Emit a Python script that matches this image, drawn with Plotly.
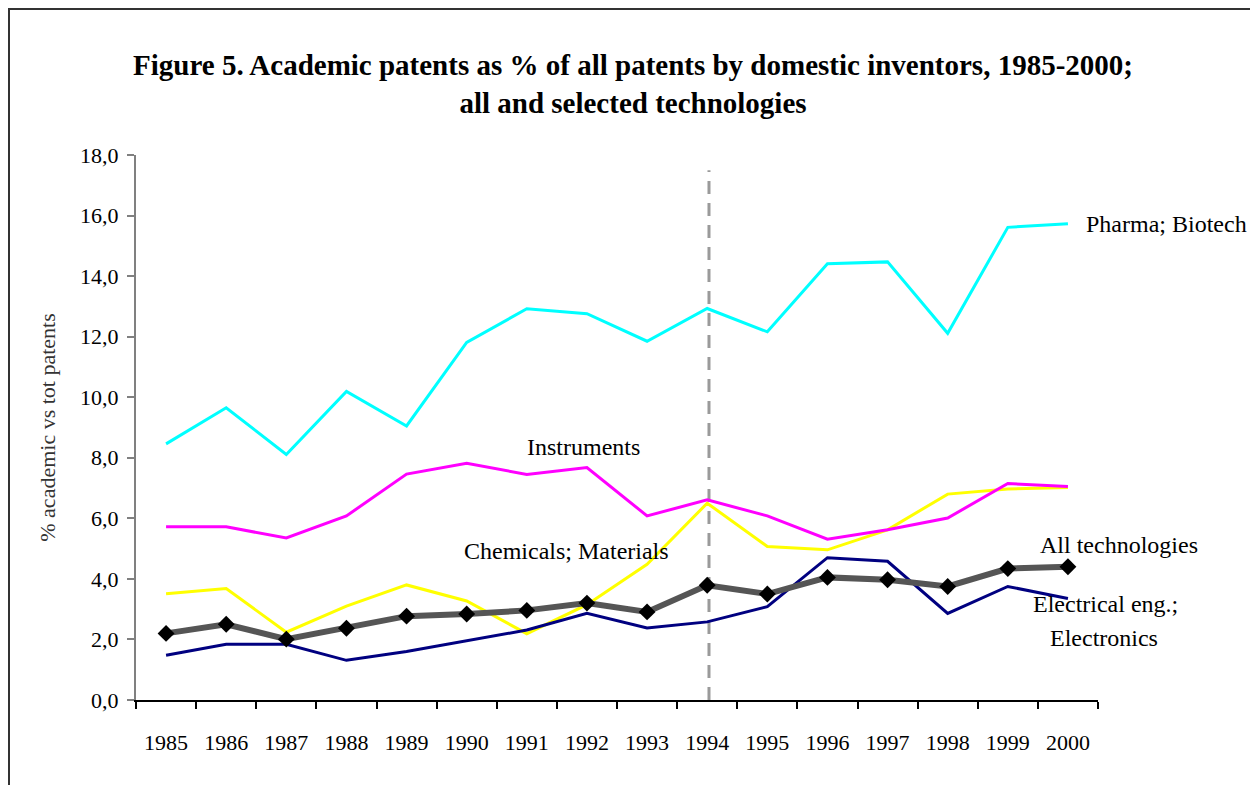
import plotly.graph_objects as go

years = ["1985", "1986", "1987", "1988", "1989", "1990", "1991", "1992",
         "1993", "1994", "1995", "1996", "1997", "1998", "1999", "2000"]

pharma_biotech = [8.46, 9.65, 8.11, 10.19, 9.05, 11.81, 12.92, 12.76,
                  11.85, 12.93, 12.16, 14.41, 14.47, 12.11, 15.61, 15.73]
instruments = [5.72, 5.72, 5.35, 6.08, 7.46, 7.82, 7.45, 7.68,
               6.08, 6.61, 6.08, 5.31, 5.62, 6.01, 7.15, 7.05]
chemicals_materials = [3.51, 3.68, 2.24, 3.1, 3.8, 3.27, 2.19, 3.15,
                       4.48, 6.5, 5.07, 4.96, 5.62, 6.8, 6.97, 7.02]
electrical_electronics = [1.48, 1.84, 1.84, 1.31, 1.6, 1.96, 2.31, 2.86,
                          2.38, 2.58, 3.08, 4.7, 4.58, 2.86, 3.75, 3.35]
all_technologies = [2.2, 2.5, 2.01, 2.37, 2.77, 2.84, 2.96, 3.2,
                    2.91, 3.79, 3.5, 4.05, 3.97, 3.75, 4.34, 4.4]

title_lines = ["Figure 5. Academic patents as % of all patents by domestic inventors, 1985-2000;",
               "all and selected technologies"]
y_title = "% academic vs tot patents"

FONT = "Liberation Serif, Times New Roman, serif"

# figure is placed at (8,8) on the page (default body margin)
W, H = 1250, 777
L, R, T, B = 128, 160, 147, 85
PW, PH = W - L - R, H - T - B

fig = go.Figure()

fig.add_trace(go.Scatter(x=years, y=chemicals_materials, mode="lines",
                         line=dict(color="#FFFF00", width=3), name="Chemicals; Materials"))
fig.add_trace(go.Scatter(x=years, y=instruments, mode="lines",
                         line=dict(color="#FF00FF", width=3), name="Instruments"))
fig.add_trace(go.Scatter(x=years, y=pharma_biotech, mode="lines",
                         line=dict(color="#00FFFF", width=3), name="Pharma; Biotech"))
fig.add_trace(go.Scatter(x=years, y=electrical_electronics, mode="lines",
                         line=dict(color="#000080", width=3), name="Electrical eng.; Electronics"))
fig.add_trace(go.Scatter(x=years, y=all_technologies, mode="lines+markers",
                         line=dict(color="#555555", width=6),
                         marker=dict(symbol="diamond", size=13, color="black"),
                         name="All technologies"))

# dashed vertical line at 1994
fig.add_shape(type="line", xref="x", yref="y", x0=9.03, x1=9.03, y0=0, y1=17.5,
              line=dict(color="#9a9a9a", width=3, dash="13px,9px"), layer="below")

# outer frame
fig.add_shape(type="rect", xref="paper", yref="paper",
              x0=(1 - L) / PW, x1=(W - 2 - L) / PW,
              y0=-0.3, y1=(PH + T - 1) / PH,
              line=dict(color="#333333", width=2))

labels = [
    ("Pharma; Biotech", 15.26, 15.73),
    ("Instruments", 5.97, 8.36),
    ("Chemicals; Materials", 4.93, 4.92),
    ("All technologies", 14.51, 5.12),
    ("Electrical eng.;", 14.38, 3.17),
    ("Electronics", 14.66, 2.05),
]
for txt, xx, yy in labels:
    fig.add_annotation(text=txt, x=xx, y=yy, xref="x", yref="y", showarrow=False,
                       xanchor="left", yanchor="middle",
                       font=dict(family=FONT, size=24, color="black"))

fig.update_layout(
    width=W, height=H,
    margin=dict(l=L, r=R, t=T, b=B),
    paper_bgcolor="white", plot_bgcolor="white",
    showlegend=False,
    separators=",.",
    font=dict(family=FONT, color="black"),
    title=dict(text="<b>" + title_lines[0] + "<br>" + title_lines[1] + "</b>",
               x=0.5, xanchor="center", y=1 - 67 / H, yanchor="middle",
               font=dict(family=FONT, size=29, color="black")),
)

fig.update_xaxes(
    type="category", range=[-0.5, 15.5], tickson="boundaries",
    showline=True, linecolor="black", linewidth=1.5,
    ticks="outside", ticklen=7, tickcolor="black", tickwidth=1.5,
    showgrid=False, zeroline=False, ticklabelstandoff=22,
    tickfont=dict(family=FONT, size=22, color="black"),
)
fig.update_yaxes(
    range=[0, 18], dtick=2, tick0=0, tickformat=".1f",
    showline=True, linecolor="#808080", linewidth=2,
    ticks="outside", ticklen=7, tickcolor="#808080", tickwidth=1.5,
    showgrid=False, zeroline=False, ticklabelstandoff=4,
    tickfont=dict(family=FONT, size=22, color="black"),
    title=dict(text=y_title, standoff=18,
               font=dict(family=FONT, size=22, color="#333333")),
)

fig.write_html("out.html")
